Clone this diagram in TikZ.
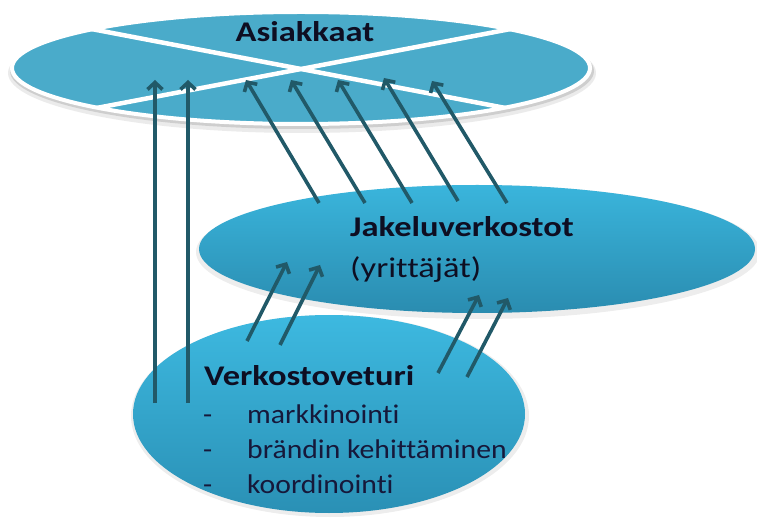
\documentclass[tikz,border=0pt]{standalone}
\usepackage{fontspec}
\setmainfont[FakeStretch=1.21, Ligatures=NoCommon]{Carlito}
\newfontfamily\bodyfont[FakeStretch=1.10, Ligatures=NoCommon]{Carlito}
\usetikzlibrary{arrows.meta,shapes.geometric}
\definecolor{aqua}{HTML}{4AABCA}
\definecolor{jtop}{HTML}{3AB5DC}
\definecolor{jbot}{HTML}{2A8CB0}
\definecolor{vtop}{HTML}{3DB9E0}
\definecolor{vbot}{HTML}{2A90B5}
\definecolor{arrc}{HTML}{215968}
\definecolor{txt}{HTML}{0E0E22}
\definecolor{btxt}{HTML}{16183A}
\tikzset{
  hd/.style={font=\fontsize{28.5}{34}\selectfont\bfseries, text=txt, inner sep=0pt},
  bd/.style={font=\bodyfont\fontsize{27}{30}\selectfont, text=btxt, inner sep=0pt},
  arr/.style={draw=arrc, line width=3.6pt, -{Straight Barb[length=7pt,width=15pt]}},
  oval/.style={ellipse, inner sep=0pt}
}
\begin{document}
\begin{tikzpicture}[x=1pt,y=-1pt]
\useasboundingbox (0,0) rectangle (757,518);
% Asiakkaat
\fill[black, opacity=0.08] (302,73) ellipse [x radius=294, y radius=60];
\fill[black, opacity=0.12] (302,71) ellipse [x radius=292, y radius=58];
\node[oval, fill=aqua, draw=white, line width=4pt, minimum width=578pt, minimum height=112pt] (A) at (301,68) {};
\begin{scope}
  \clip (301,68) ellipse [x radius=289, y radius=56];
  \draw[white, line width=4.5pt] (-3,11) -- (605,127);
  \draw[white, line width=4.5pt] (-3,127) -- (605,11);
\end{scope}
% Jakeluverkostot
\fill[black, opacity=0.07] (478,252) ellipse [x radius=282, y radius=67];
\node[oval, top color=jtop, bottom color=jbot, minimum width=556pt, minimum height=128pt] (J) at (477,249) {};
% Verkostoveturi
\fill[black, opacity=0.07] (330,416) ellipse [x radius=199, y radius=101];
\node[oval, top color=vtop, bottom color=vbot, minimum width=392pt, minimum height=198pt] (V) at (329,414) {};
% texts
\node[hd, anchor=base] (tA) at (305,42) {Asiakkaat};
\node[hd, anchor=base west] (tJ) at (350,237) {Jakeluverkostot};
\node[hd, font=\fontsize{28.5}{34}\selectfont, anchor=base west] (tY) at (350,278) {(yrittäjät)};
\node[hd, anchor=base west] (tV) at (204,385) {Verkostoveturi};
\node[bd, anchor=base west] (d1) at (203,423) {-};
\node[bd, anchor=base west] (m1) at (247,423) {markkinointi};
\node[bd, anchor=base west] (d2) at (203,458) {-};
\node[bd, anchor=base west] (m2) at (247,458) {brändin kehittäminen};
\node[bd, anchor=base west] (d3) at (203,493) {-};
\node[bd, anchor=base west] (m3) at (247,493) {koordinointi};
% arrow end points
\coordinate (v1s) at (155,403); \coordinate (v1e) at (155,80);
\coordinate (v2s) at (188,403); \coordinate (v2e) at (188,80);
\coordinate (d1s) at (319,203); \coordinate (d1e) at (246,80);
\coordinate (d2s) at (365,203); \coordinate (d2e) at (291,80);
\coordinate (d3s) at (412,203); \coordinate (d3e) at (338,80);
\coordinate (d4s) at (458,201); \coordinate (d4e) at (384,78);
\coordinate (d5s) at (507,203); \coordinate (d5e) at (432,81);
\coordinate (l1s) at (247,341); \coordinate (l1e) at (287,262);
\coordinate (l2s) at (280,345); \coordinate (l2e) at (320,265);
\coordinate (r1s) at (438,373); \coordinate (r1e) at (479,295);
\coordinate (r2s) at (467,377); \coordinate (r2e) at (508,298);
\foreach \a in {v1,v2,d1,d2,d3,d4,d5,l1,l2,r1,r2}
  \draw[arr] (\a s) -- (\a e);
\end{tikzpicture}
\end{document}
